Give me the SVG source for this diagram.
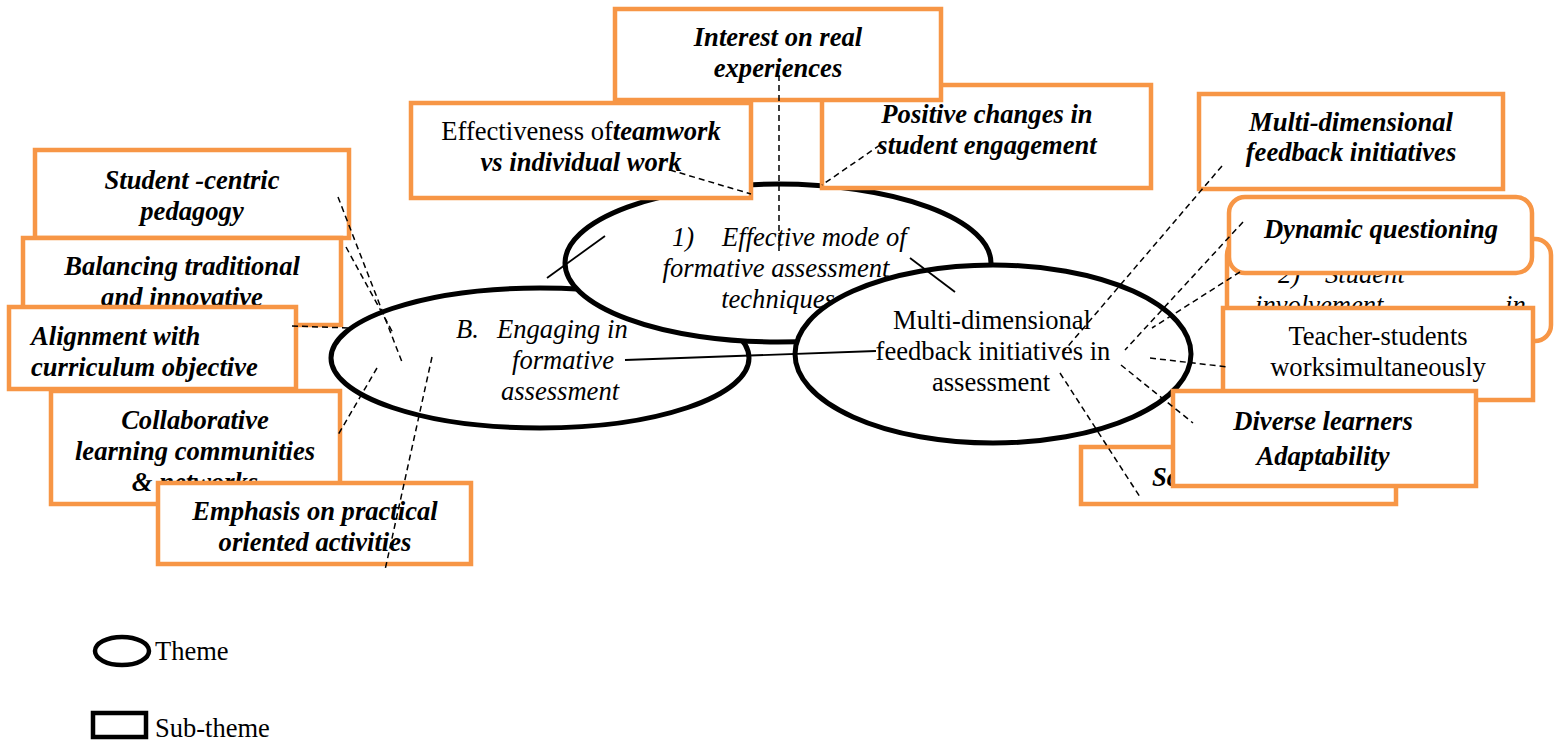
<svg xmlns="http://www.w3.org/2000/svg" width="1559" height="742" viewBox="0 0 1559 742">
<style>
.th{fill:#fff;stroke:#000;stroke-width:5}
.bx{fill:#fff;stroke:#F79646;stroke-width:4.5}
.t{font-family:"Liberation Serif","Times New Roman",serif;font-size:26.6px;fill:#000}
.lg{font-family:"Liberation Serif","Times New Roman",serif;font-size:26.5px;fill:#000}
.bi{font-weight:bold;font-style:italic}
.it{font-style:italic}
.dash{stroke:#000;stroke-width:1.5;stroke-dasharray:6 4;fill:none}
.sol{stroke:#000;stroke-width:1.8;fill:none}
</style>
<rect width="1559" height="742" fill="#fff"/>
<g id="theme-engaging">
<ellipse class="th" cx="540" cy="358" rx="209" ry="70"/>
<text class="t it" x="456" y="338">B.</text>
<text class="t it" x="497" y="338">Engaging in</text>
<text class="t it" x="563" y="369" text-anchor="middle">formative</text>
<text class="t it" x="560" y="400" text-anchor="middle">assessment</text>
</g>
<g id="theme-effective">
<ellipse class="th" cx="778" cy="263" rx="213" ry="79"/>
<text class="t it" x="672" y="246">1)</text>
<text class="t it" x="722" y="246">Effective mode of</text>
<text class="t it" x="776" y="277" text-anchor="middle">formative assessment</text>
<text class="t it" x="778" y="308" text-anchor="middle">techniques</text>
</g>
<g id="theme-multidim">
<ellipse class="th" cx="993" cy="354" rx="198" ry="89"/>
<text class="t" x="992" y="329" text-anchor="middle">Multi-dimensional</text>
<text class="t" x="993" y="360" text-anchor="middle">feedback initiatives in</text>
<text class="t" x="991" y="391" text-anchor="middle">assessment</text>
</g>
<g id="sub-positive">
<rect class="bx" x="822" y="85" width="329" height="103"/>
<text class="t bi" x="987" y="123" text-anchor="middle">Positive changes in</text>
<text class="t bi" x="987" y="154" text-anchor="middle">student engagement</text>
</g>
<g id="sub-interest">
<rect class="bx" x="615" y="9" width="326" height="91"/>
<text class="t bi" x="778" y="46" text-anchor="middle">Interest on real</text>
<text class="t bi" x="778" y="77" text-anchor="middle">experiences</text>
</g>
<g id="sub-teamwork">
<rect class="bx" x="411" y="103" width="340" height="95"/>
<text class="t" x="581" y="140" text-anchor="middle">Effectiveness of<tspan class="bi">teamwork</tspan></text>
<text class="t bi" x="581" y="171" text-anchor="middle">vs individual work</text>
</g>
<g id="sub-student-centric">
<rect class="bx" x="35" y="150" width="314" height="88"/>
<text class="t bi" x="192" y="189" text-anchor="middle">Student -centric</text>
<text class="t bi" x="192" y="220" text-anchor="middle">pedagogy</text>
</g>
<g id="sub-balancing">
<rect class="bx" x="23" y="238" width="318" height="87"/>
<text class="t bi" x="182" y="275" text-anchor="middle">Balancing traditional</text>
<text class="t bi" x="182" y="306" text-anchor="middle">and innovative</text>
</g>
<g id="sub-alignment">
<rect class="bx" x="9" y="307" width="287" height="82"/>
<text class="t bi" x="31" y="345">Alignment with</text>
<text class="t bi" x="31" y="376">curriculum objective</text>
</g>
<g id="sub-collaborative">
<rect class="bx" x="51" y="391" width="289" height="113"/>
<text class="t bi" x="195" y="429" text-anchor="middle">Collaborative</text>
<text class="t bi" x="195" y="460" text-anchor="middle">learning communities</text>
<text class="t bi" x="195" y="491" text-anchor="middle">&amp; networks</text>
</g>
<g id="sub-emphasis">
<rect class="bx" x="158" y="483" width="313" height="81"/>
<text class="t bi" x="315" y="520" text-anchor="middle">Emphasis on practical</text>
<text class="t bi" x="315" y="551" text-anchor="middle">oriented activities</text>
</g>
<g id="sub-multidim-feedback">
<rect class="bx" x="1199" y="94" width="304" height="95"/>
<text class="t bi" x="1351" y="131" text-anchor="middle">Multi-dimensional</text>
<text class="t bi" x="1351" y="161" text-anchor="middle">feedback initiatives</text>
</g>
<g id="theme-student-involvement">
<rect class="bx" x="1227" y="239" width="324" height="102" rx="16"/>
<text class="t it" x="1278" y="283">2)</text>
<text class="t it" x="1325" y="283">Student</text>
<text class="t it" x="1255" y="314">involvement</text>
<text class="t it" x="1505" y="314">in</text>
</g>
<g id="sub-dynamic">
<rect class="bx" x="1229" y="197" width="303" height="76" rx="16"/>
<text class="t bi" x="1381" y="238" text-anchor="middle">Dynamic questioning</text>
</g>
<g id="sub-teacher">
<rect class="bx" x="1223" y="308" width="310" height="92"/>
<text class="t" x="1378" y="345" text-anchor="middle">Teacher-students</text>
<text class="t" x="1378" y="376" text-anchor="middle">worksimultaneously</text>
</g>
<g id="sub-sc">
<rect class="bx" x="1081" y="447" width="315" height="57"/>
<text class="t bi" x="1152" y="486">Sc</text>
</g>
<g id="sub-diverse">
<rect class="bx" x="1173" y="391" width="303" height="95"/>
<text class="t bi" x="1323" y="430" text-anchor="middle">Diverse learners</text>
<text class="t bi" x="1323" y="465" text-anchor="middle">Adaptability</text>
</g>
<g id="connectors">
<line class="sol" x1="625" y1="360" x2="876" y2="351"/>
<line class="sol" x1="547" y1="278" x2="605" y2="236"/>
<line class="sol" x1="910" y1="258" x2="955" y2="292"/>
<line class="dash" x1="779" y1="75" x2="779" y2="252"/>
<line class="dash" x1="670" y1="170" x2="751" y2="194"/>
<line class="dash" x1="880" y1="145" x2="822" y2="185"/>
<line class="dash" x1="1222" y1="166" x2="1063" y2="352"/>
<line class="dash" x1="1243" y1="222" x2="1125" y2="350"/>
<line class="dash" x1="1240" y1="272" x2="1152" y2="328"/>
<line class="dash" x1="1150" y1="358" x2="1228" y2="367"/>
<line class="dash" x1="1121" y1="365" x2="1193" y2="423"/>
<line class="dash" x1="1060" y1="373" x2="1140" y2="497"/>
<line class="dash" x1="338" y1="197" x2="402" y2="362"/>
<line class="dash" x1="346" y1="247" x2="393" y2="333"/>
<line class="dash" x1="292" y1="326" x2="350" y2="328"/>
<line class="dash" x1="377" y1="368" x2="338" y2="435"/>
<line class="dash" x1="432" y1="357" x2="385" y2="570"/>
</g>
<g id="legend">
<ellipse cx="122" cy="651" rx="27" ry="14" fill="#fff" stroke="#000" stroke-width="4.5"/>
<text class="lg" x="155" y="660">Theme</text>
<rect x="93" y="713" width="53" height="24" fill="#fff" stroke="#000" stroke-width="4.5"/>
<text class="lg" x="155" y="737">Sub-theme</text>
</g>
</svg>
